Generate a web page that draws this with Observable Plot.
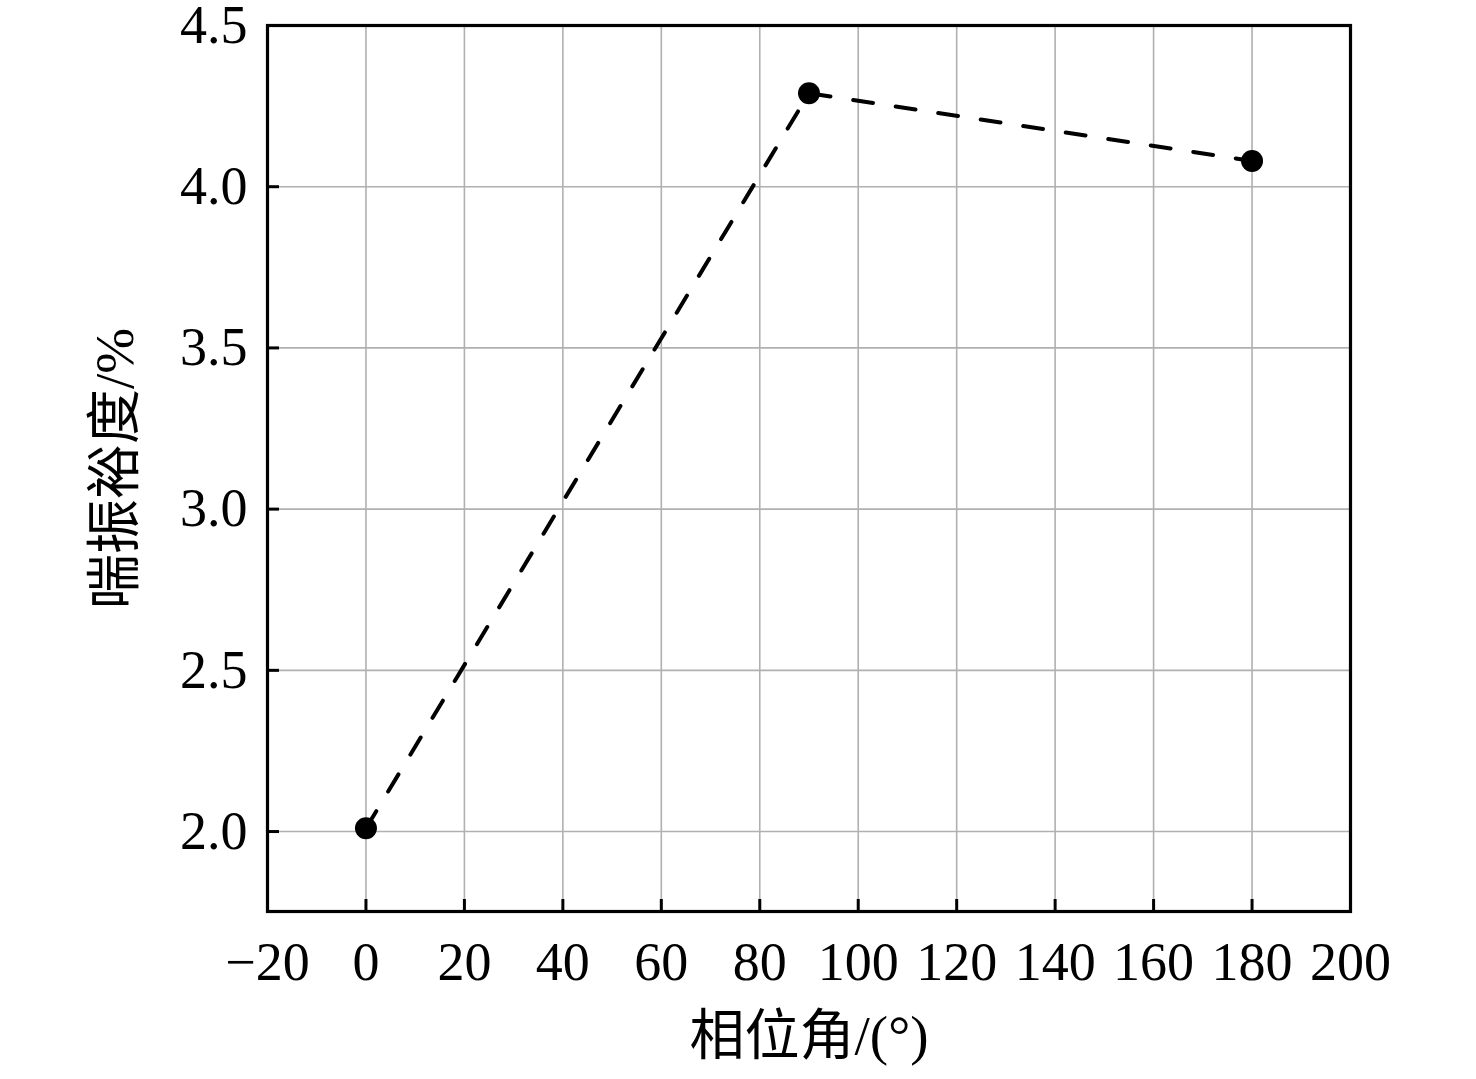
<!DOCTYPE html>
<html>
<head>
<meta charset="utf-8">
<script src="https://cdn.jsdelivr.net/npm/d3@7"></script>
<script src="https://cdn.jsdelivr.net/npm/@observablehq/plot@0.6"></script>
<style>
  html, body { margin: 0; padding: 0; background: #fff; }
  #chart svg { display: block; overflow: visible; }
</style>
</head>
<body>
<div id="chart"></div>
<script>
// Data
const phaseAngles = [0, 90, 180];
const surgeMargins = [2.01, 4.29, 4.08];
const xTicks = [-20, 0, 20, 40, 60, 80, 100, 120, 140, 160, 180, 200];
const yTicks = [2.0, 2.5, 3.0, 3.5, 4.0, 4.5];
const xLabel = "相位角/(°)";
const yLabel = "喘振裕度/%";

const data = phaseAngles.map((x, i) => ({x, y: surgeMargins[i]}));

const W = 1476, H = 1079;
const mL = 267, mR = 126, mT = 25, mB = 168;
const plotW = W - mL - mR, plotH = H - mT - mB;
const tickLen = 12;
const font = "'Liberation Serif', 'Times New Roman', 'Noto Sans CJK SC', serif";

const chart = Plot.plot({
  width: W,
  height: H,
  marginLeft: mL,
  marginRight: mR,
  marginTop: mT,
  marginBottom: mB,
  style: {fontFamily: font, background: "#fff", color: "#000", overflow: "visible"},
  x: {domain: [-20, 200]},
  y: {domain: [1.752, 4.5]},
  marks: [
    Plot.gridX(xTicks, {stroke: "#b0b0b0", strokeOpacity: 1, strokeWidth: 1.6}),
    Plot.gridY(yTicks, {stroke: "#b0b0b0", strokeOpacity: 1, strokeWidth: 1.6}),
    Plot.axisX(xTicks, {tickSize: 0, tickPadding: 30, fontSize: 54, tickFormat: d3.format("d"), label: null}),
    Plot.axisY(yTicks, {tickSize: 0, tickPadding: 20, fontSize: 54, tickFormat: d3.format(".1f"), label: null}),
    Plot.tickX(xTicks, {x: d => d, stroke: "#000", strokeWidth: 3, insetTop: plotH - tickLen}),
    Plot.tickY(yTicks, {y: d => d, stroke: "#000", strokeWidth: 3, insetRight: plotW - tickLen}),
    Plot.line(data, {x: "x", y: "y", stroke: "#000", strokeWidth: 4, strokeDasharray: "20,23"}),
    Plot.dot(data, {x: "x", y: "y", r: 11, fill: "#000", stroke: "none"}),
    Plot.frame({stroke: "#000", strokeWidth: 3.2}),
    Plot.text([xLabel], {frameAnchor: "bottom", textAnchor: "middle", dy: 142, fontSize: 55, fill: "#000"}),
    Plot.text([yLabel], {frameAnchor: "left", textAnchor: "middle", dx: -152, rotate: -90, fontSize: 55, fill: "#000"})
  ]
});
document.getElementById("chart").appendChild(chart);
</script>
</body>
</html>
